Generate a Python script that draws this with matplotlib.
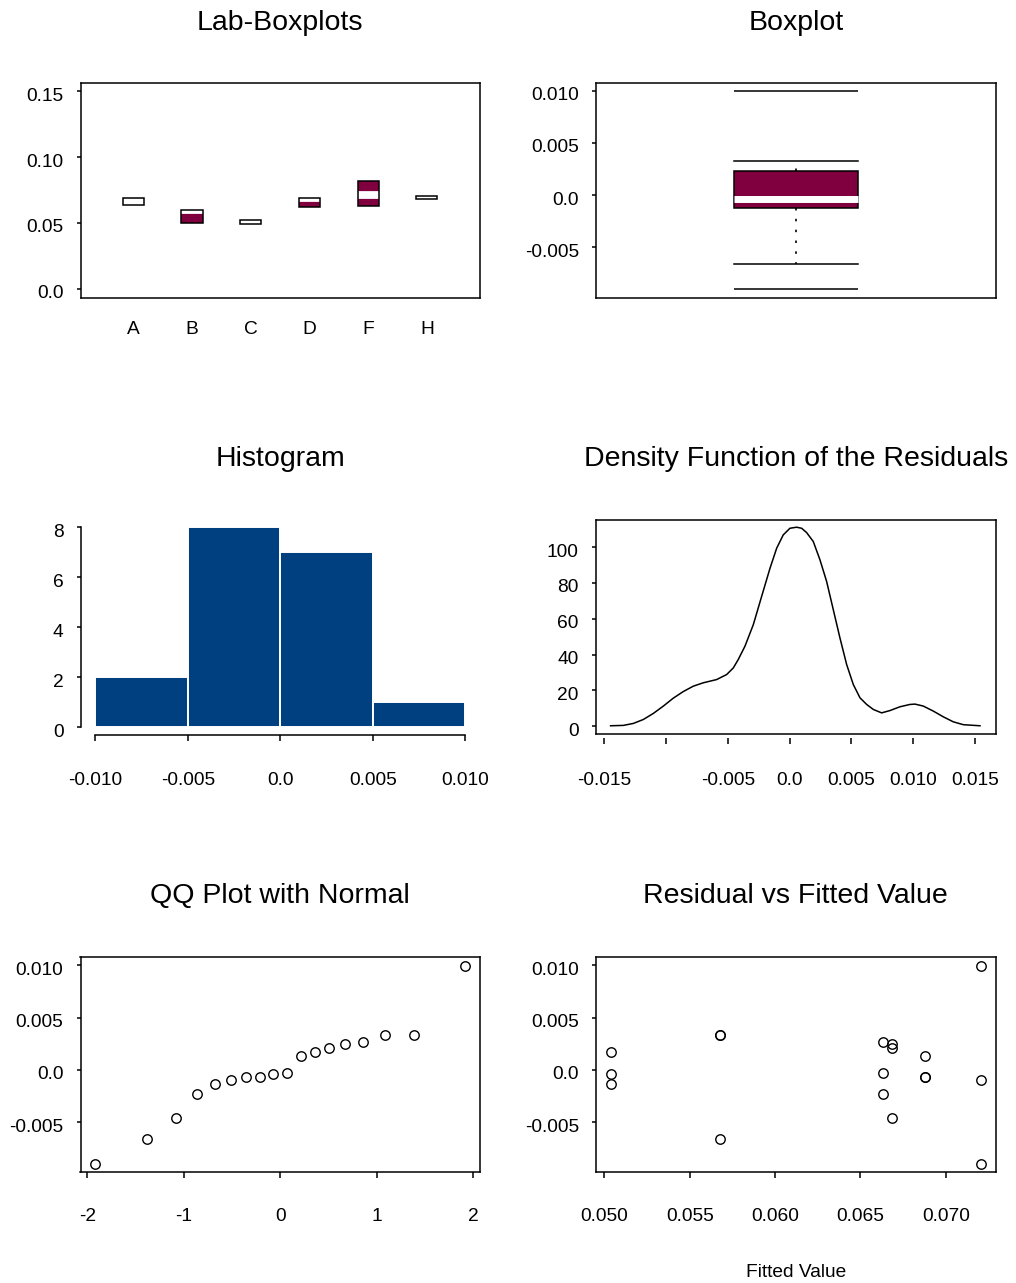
import numpy as np
import matplotlib
matplotlib.use("Agg")
import matplotlib.pyplot as plt
from matplotlib import cbook
from matplotlib.transforms import ScaledTranslation

plt.rcParams['font.family'] = ['Liberation Sans', 'DejaVu Sans']

# ---------------------------------------------------------------- data
labs = ["A", "B", "C", "D", "F", "H"]

# three measurements per laboratory
lab_a = [0.0690, 0.0660, 0.0640]
lab_b = [0.0601, 0.0601, 0.0502]
lab_c = [0.0521, 0.0500, 0.0490]
lab_d = [0.0693, 0.0690, 0.0623]
lab_f = [0.0820, 0.0711, 0.0631]
lab_h = [0.0701, 0.0681, 0.0681]

# normal scores for a sample of 18
normal_scores = [-1.915, -1.383, -1.085, -0.862, -0.674, -0.508, -0.355, -0.210, -0.070,
                 0.070, 0.210, 0.355, 0.508, 0.674, 0.862, 1.085, 1.383, 1.915]

# estimated density of the residuals
dens_x = [-0.01449, -0.01346, -0.01265, -0.01184, -0.01103, -0.01022, -0.00942, -0.00861,
          -0.00780, -0.00699, -0.00591, -0.00510, -0.00456, -0.00416, -0.00362, -0.00294,
          -0.00227, -0.00159, -0.00105, -0.00052, 0.00002, 0.00056, 0.00097, 0.00137,
          0.00191, 0.00245, 0.00299, 0.00353, 0.00407, 0.00461, 0.00515, 0.00569,
          0.00623, 0.00677, 0.00744, 0.00812, 0.00892, 0.00973, 0.01014, 0.01081,
          0.01162, 0.01243, 0.01324, 0.01405, 0.01540]
dens_y = [0.2, 0.4, 1.5, 3.7, 7.1, 11.2, 15.6, 19.3, 22.3, 24.2, 26.0, 28.8, 32.5, 37.2,
          44.6, 56.7, 72.4, 88.2, 99.4, 106.8, 110.5, 111.1, 110.5, 108.1, 103.1, 92.9,
          80.8, 65.0, 49.2, 34.4, 23.2, 15.8, 12.1, 9.3, 7.4, 8.7, 10.8, 12.1, 12.3,
          11.2, 8.4, 5.2, 2.4, 0.8, 0.2]

hist_edges = [-0.010, -0.005, 0.0, 0.005, 0.010]

# ---------------------------------------------------------------- derived
lab_data = [lab_a, lab_b, lab_c, lab_d, lab_f, lab_h]
fitted = np.concatenate([[np.mean(v)] * len(v) for v in lab_data])
residuals = np.concatenate([np.asarray(v) - np.mean(v) for v in lab_data])

# ---------------------------------------------------------------- style
MAROON = '#80003f'
BLUE = '#004080'
LW = 1.1
TICK_FS = 13.8
TITLE_FS = 20.5
W, H = 1016, 1283

fig = plt.figure(figsize=(W / 100, H / 100), dpi=100)
ylabel_shift = ScaledTranslation(0, -3 / 100, fig.dpi_scale_trans)


def add_axes(left, top, right, bottom):
    return fig.add_axes([left / W, 1 - bottom / H, (right - left) / W, (bottom - top) / H])


def style(ax, xpad=21.6, xlen=4.3):
    for s in ax.spines.values():
        s.set_linewidth(LW)
    ax.tick_params(axis='y', direction='out', length=3, width=LW, pad=9.4,
                   labelsize=TICK_FS, right=False)
    ax.tick_params(axis='x', direction='out', length=xlen, width=LW, pad=xpad,
                   labelsize=TICK_FS, top=False)


def shift_ylabels(ax):
    for lab in ax.get_yticklabels():
        lab.set_transform(lab.get_transform() + ylabel_shift)


def title(x, y, text):
    fig.text(x / W, 1 - y / H, text, ha='center', va='baseline', fontsize=TITLE_FS)


res_yticks = [-0.005, 0.0, 0.005, 0.010]
res_ylabels = ["-0.005", "0.0", "0.005", "0.010"]

# ---------------------------------------------------------------- Lab-Boxplots
ax1 = add_axes(80.7, 82.7, 480, 297.7)
style(ax1, xpad=16.8, xlen=0)
pos = np.arange(1, len(labs) + 1)
lows = np.array([min(v) for v in lab_data])
highs = np.array([max(v) for v in lab_data])
meds = np.array([np.median(v) for v in lab_data])
bw = 0.36
fills = ax1.bar(pos, highs - lows, bottom=lows, width=bw, color=MAROON, linewidth=0, zorder=2)
for patch, m, p in zip(fills, meds, pos):
    ln, = ax1.plot([p - bw / 2, p + bw / 2], [m, m], color='white', lw=5.6,
                   solid_capstyle='butt', zorder=3)
    ln.set_clip_path(patch)
ax1.bar(pos, highs - lows, bottom=lows, width=bw, fill=False, edgecolor='black',
        linewidth=LW, zorder=4)
ax1.set_xlim(0.104, 6.906)
ax1.set_ylim(-0.0066, 0.1563)
ax1.set_xticks(pos, labs)
ax1.set_yticks([0.0, 0.05, 0.10, 0.15], ["0.0", "0.05", "0.10", "0.15"])
shift_ylabels(ax1)
title(280.3, 30, "Lab-Boxplots")

# ---------------------------------------------------------------- Boxplot of residuals
ax2 = add_axes(596, 82.7, 995.7, 298.0)
style(ax2)
st = cbook.boxplot_stats(residuals, whis=1.5)[0]
bw2 = 0.311
ax2.bxp([st], positions=[1.0], widths=bw2, patch_artist=True, showfliers=False,
        boxprops=dict(facecolor=MAROON, edgecolor='black', linewidth=LW),
        medianprops=dict(color='white', linewidth=5.0, solid_capstyle='butt'),
        whiskerprops=dict(color='black', linewidth=1.2, linestyle=(0, (1.5, 5))),
        capprops=dict(color='black', linewidth=LW), capwidths=bw2)
ax2.hlines(st['fliers'], 1 - bw2 / 2, 1 + bw2 / 2, color='black', linewidth=LW)
ax2.set_xlim(0.5, 1.5)
ax2.set_ylim(-0.00984, 0.01076)
ax2.set_xticks([])
ax2.set_yticks(res_yticks, res_ylabels)
shift_ylabels(ax2)
title(795.8, 30, "Boxplot")

# ---------------------------------------------------------------- Histogram
ax3 = add_axes(80.7, 519.5, 480, 735)
style(ax3, xpad=22)
ax3.hist(residuals, bins=hist_edges, color=BLUE, edgecolor='white', linewidth=1.4)
ax3.set_xlim(-0.0108, 0.0108)
ax3.set_ylim(-0.32, 8.32)
for s in ('top', 'right'):
    ax3.spines[s].set_visible(False)
ax3.spines['left'].set_bounds(0, 8)
ax3.spines['bottom'].set_bounds(-0.010, 0.010)
ax3.set_xticks(hist_edges, ["-0.010", "-0.005", "0.0", "0.005", "0.010"])
ax3.set_yticks([0, 2, 4, 6, 8], ["0", "2", "4", "6", "8"])
shift_ylabels(ax3)
title(280.3, 466, "Histogram")

# ---------------------------------------------------------------- Density
ax4 = add_axes(596, 519.5, 995.7, 734)
style(ax4, xpad=20)
ax4.plot(dens_x, dens_y, color='black', linewidth=1.1)
ax4.spines['bottom'].set_position(('outward', 3))
ax4.spines['bottom'].set_color('none')
ax4.plot([0, 1], [0, 0], transform=ax4.transAxes, color='black', linewidth=LW,
         clip_on=False, solid_capstyle='projecting')
ax4.set_xlim(-0.01567, 0.01667)
ax4.set_ylim(-4.4, 115.4)
ax4.set_xticks([-0.015, -0.010, -0.005, 0.0, 0.005, 0.010, 0.015],
               ["-0.015", "", "-0.005", "0.0", "0.005", "0.010", "0.015"])
ax4.set_yticks([0, 20, 40, 60, 80, 100], ["0", "20", "40", "60", "80", "100"])
shift_ylabels(ax4)
title(795.8, 466, "Density Function of the Residuals")

# ---------------------------------------------------------------- QQ plot
ax5 = add_axes(80.5, 956.7, 480, 1171.7)
style(ax5)
ax5.plot(normal_scores, np.sort(residuals), linestyle='none', marker='o', markersize=6.8,
         markerfacecolor='none', markeredgecolor='black', markeredgewidth=1.0)
ax5.set_xlim(-2.07, 2.07)
ax5.set_ylim(-0.00972, 0.01082)
ax5.set_xticks([-2, -1, 0, 1, 2], ["-2", "-1", "0", "1", "2"])
ax5.set_yticks(res_yticks, res_ylabels)
shift_ylabels(ax5)
title(280.3, 903, "QQ Plot with Normal")

# ---------------------------------------------------------------- Residual vs fitted
ax6 = add_axes(596, 956.7, 995.7, 1171.7)
style(ax6)
ax6.plot(fitted, residuals, linestyle='none', marker='o', markersize=6.8,
         markerfacecolor='none', markeredgecolor='black', markeredgewidth=1.0)
ax6.set_xlim(0.04951, 0.07292)
ax6.set_ylim(-0.00972, 0.01082)
ax6.set_xticks([0.050, 0.055, 0.060, 0.065, 0.070],
               ["0.050", "0.055", "0.060", "0.065", "0.070"])
ax6.set_yticks(res_yticks, res_ylabels)
shift_ylabels(ax6)
title(795.8, 903, "Residual vs Fitted Value")
fig.text(795.8 / W, 1 - 1277 / H, "Fitted Value", ha='center', va='baseline',
         fontsize=TICK_FS)

fig.savefig("out.png", dpi=100)
